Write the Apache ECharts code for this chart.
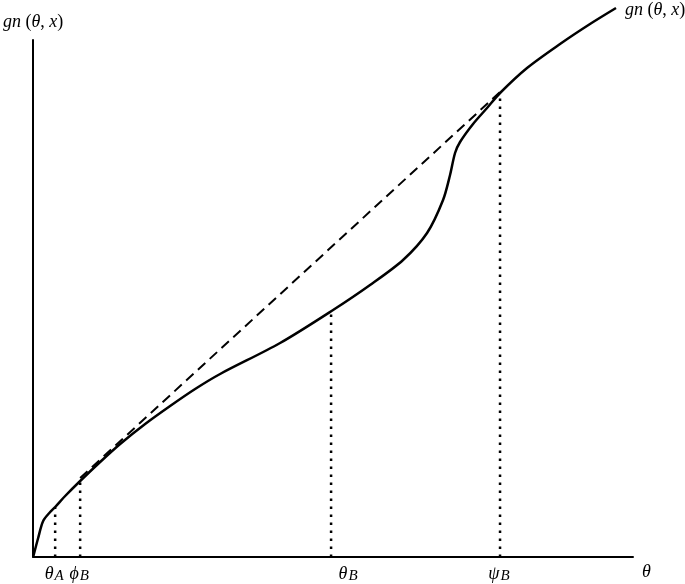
<!DOCTYPE html>
<html>
<head>
<meta charset="utf-8">
<script src="https://cdn.jsdelivr.net/npm/echarts@6/dist/echarts.min.js"></script>
<style>html,body{margin:0;padding:0;background:#fff}#c{width:685px;height:584px}</style>
</head>
<body>
<div id="c"></div>
<script>
// Curve g_n(theta, x) (units: horizontal/vertical distance from the origin)
const curveX = [0,5,10,17,22,32,47,67,87,112,137,162,187,247,300,337,370,394,410,417,422,427,440,454,467,494,527,557,583];
const curveY = [0,19,36,45,50,61,76,95,113,133,151,168,183,214,247,272,297,324,357,382,404,415,433,449,464,489,513,533,549];
// Dashed chord
const chordX = [47,467];
const chordY = [79,465];
// Dotted drop lines
const dropX = [22,47,298,467];
const dropY = [50,76,246,464];
// Tick labels on the theta axis
const tickPos = [21,46,315,466];
const tickSym = ['θ','ϕ','θ','ψ'];
const tickSub = ['A','B','B','B'];
const curveName = 'gn(θ, x)';

const FONT = 'Liberation Serif';
const rich = {
  i:{fontFamily:FONT,fontStyle:'italic',fontSize:18,color:'#000',lineHeight:20},
  r:{fontFamily:FONT,fontSize:18,color:'#000',lineHeight:20},
  s:{fontFamily:FONT,fontStyle:'italic',fontSize:15,color:'#000',lineHeight:14,verticalAlign:'bottom',padding:[9,0,0,1]}
};
const gLabel = '{i|gn}{r| (}{i|θ}{r|, }{i|x}{r|)}';

const curveData = curveX.map((x,i)=>[x,curveY[i]]);

const dropData = [];
dropX.forEach((x,i)=>{ dropData.push([x,0]); dropData.push([x,dropY[i]]); dropData.push('-'); });

const chart = echarts.init(document.getElementById('c'));
chart.setOption({
  animation:false,
  grid:{left:33,right:52,top:40,bottom:27},
  xAxis:{type:'value',min:0,max:600,
    axisLine:{show:true,lineStyle:{color:'#000',width:2}},
    axisTick:{show:false},splitLine:{show:false},
    axisLabel:{show:true,customValues:tickPos,margin:7,
      formatter:function(v){const k=tickPos.indexOf(v);return k<0?'':'{i|'+tickSym[k]+'}{s|'+tickSub[k]+'}';},
      rich:rich},
    name:'θ',nameLocation:'end',nameGap:9,
    nameTextStyle:{fontFamily:FONT,fontStyle:'italic',fontSize:18,color:'#000',verticalAlign:'top',padding:[6,0,0,0]}
  },
  yAxis:{type:'value',min:0,max:517,
    axisLine:{show:true,lineStyle:{color:'#000',width:2}},
    axisTick:{show:false},splitLine:{show:false},axisLabel:{show:false},
    name:gLabel,nameLocation:'end',nameGap:8,
    nameTextStyle:{align:'center',verticalAlign:'bottom',rich:rich}
  },
  series:[
    {type:'line',data:dropData,symbol:'none',clip:false,connectNulls:false,
     lineStyle:{color:'#000',width:2.5,type:[2.5,5.5]},z:1},
    {type:'line',data:chordX.map((x,i)=>[x,chordY[i]]),symbol:'none',clip:false,
     lineStyle:{color:'#000',width:2,type:[10,6]},z:2},
    {type:'line',name:curveName,data:curveData,symbol:'none',smooth:0.3,clip:false,
     lineStyle:{color:'#000',width:2.5},z:3,
     endLabel:{show:true,distance:9,formatter:gLabel,rich:rich,offset:[0,2]}}
  ]
});
</script>
</body>
</html>
